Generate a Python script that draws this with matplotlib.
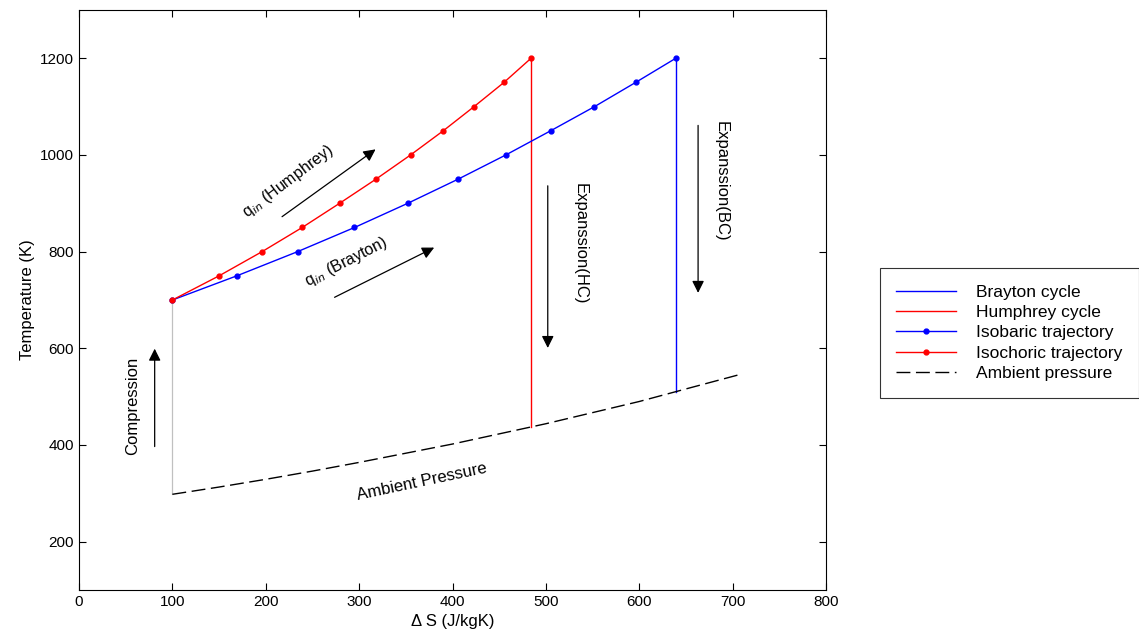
import matplotlib.pyplot as plt

plt.rcParams['font.family'] = ['Liberation Sans', 'DejaVu Sans']

# temperatures along heat addition (K)
temps = [700, 750, 800, 850, 900, 950, 1000, 1050, 1100, 1150, 1200]
# entropy along constant pressure heat addition (J/kgK)
s_isobaric = [100, 169, 234, 295, 352, 406, 457, 505, 552, 596, 639]
# entropy along constant volume heat addition (J/kgK)
s_isochoric = [100, 150, 196, 239, 279, 318, 355, 390, 423, 455, 484]

# ambient pressure line
s_ambient = [100, 150, 200, 250, 300, 350, 400, 450, 500, 550, 600, 650, 710]
t_ambient = [298, 313, 329, 346, 364, 383, 402, 423, 444, 467, 490, 516, 547]

# expansion end temperatures
t_exp_hc = 437
t_exp_bc = 510
t_comp_start = 298

fig = plt.figure(figsize=(11.39, 6.37), dpi=100)
ax = fig.add_axes([0.0694, 0.0738, 0.6558, 0.9105])

ax.plot([s_isobaric[0], s_isobaric[0]], [t_comp_start, temps[0]], color='#c0c0c0', lw=0.9)
l_bc, = ax.plot([s_isobaric[-1], s_isobaric[-1]], [temps[-1], t_exp_bc], color='b', lw=1)
l_hc, = ax.plot([s_isochoric[-1], s_isochoric[-1]], [temps[-1], t_exp_hc], color='r', lw=1)
l_iso_p, = ax.plot(s_isobaric, temps, color='b', lw=1, marker='o', ms=3.5)
l_iso_v, = ax.plot(s_isochoric, temps, color='r', lw=1, marker='o', ms=3.5)
l_amb, = ax.plot(s_ambient, t_ambient, color='k', lw=1, dashes=(10, 4))

ax.set_xlim(0, 800)
ax.set_ylim(100, 1300)
ax.set_xticks(range(0, 801, 100))
ax.set_yticks(range(200, 1201, 200))
ax.tick_params(direction='in', top=True, right=True, labelsize=11, length=5)
ax.set_xlabel('Δ S (J/kgK)', fontsize=12)
ax.set_ylabel('Temperature (K)', fontsize=12)

arrow = dict(arrowstyle='-|>', mutation_scale=18, lw=0.9, color='k')
ax.annotate('', xy=(320, 1015), xytext=(215, 869), arrowprops=arrow)
ax.annotate('', xy=(383, 811), xytext=(271, 703), arrowprops=arrow)
ax.annotate('', xy=(502, 595), xytext=(502, 942), arrowprops=arrow)
ax.annotate('', xy=(663, 709), xytext=(663, 1067), arrowprops=arrow)
ax.annotate('', xy=(81, 605), xytext=(81, 391), arrowprops=arrow)

txt = dict(ha='center', va='center', rotation_mode='anchor', fontsize=12)
ax.text(224, 946, 'q$_{in}$ (Humphrey)', rotation=37, **dict(txt, fontsize=11.5))
ax.text(286, 778, 'q$_{in}$ (Brayton)', rotation=27, **dict(txt, fontsize=11.5))
ax.text(537, 817, 'Expanssion(HC)', rotation=270, **txt)
ax.text(688, 946, 'Expanssion(BC)', rotation=270, **txt)
ax.text(57, 481, 'Compression', rotation=90, **txt)
ax.text(367, 323, 'Ambient Pressure', rotation=12, **txt)

leg = fig.legend([l_bc, l_hc, l_iso_p, l_iso_v, l_amb],
                 ['Brayton cycle', 'Humphrey cycle', 'Isobaric trajectory',
                  'Isochoric trajectory', 'Ambient pressure'],
                 loc='upper left', bbox_to_anchor=(0.7726, 0.5793),
                 fontsize=12.5, frameon=True, fancybox=False, edgecolor='k',
                 handlelength=3.4, handletextpad=1.2, labelspacing=0.3,
                 borderpad=0.95, borderaxespad=0)
leg.get_frame().set_linewidth(0.8)

fig.savefig('out.png', dpi=100)
